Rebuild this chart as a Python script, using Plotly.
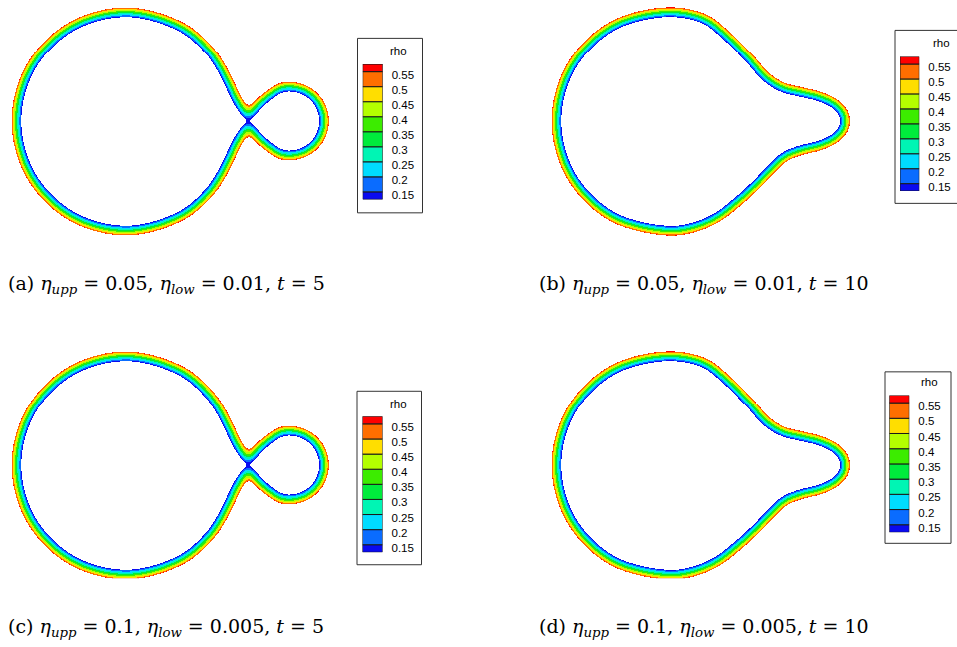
import numpy as np
import plotly.graph_objects as go

FIG_W, FIG_H = 957, 647

# Membrane mid-lines (x right, y up, px, origin at the centre of the large cell).
# Budding cell: upper half, mirrored about y = 0.
BUD_X = [-110, -95.3, -55, 0, 55, 84.3, 99.7, 107, 113, 118, 122, 126, 131.5, 138, 146, 154, 163.5, 181, 193.8, 198.5]
BUD_Y = [0, 55, 95.3, 110, 95.3, 70.7, 46.5, 31, 19, 11.2, 6.9, 10, 16.2, 22.5, 28.5, 33.5, 35, 30.3, 17.5, 0]
# Pear-shaped cell: full loop, counter-clockwise from the left end.
PEAR_X = [-110, -95.3, -55, 0, 38, 60, 83, 101, 117, 135, 155, 170, 178.5, 179.5,
          178.5, 170, 155, 135, 119, 106, 90, 73, 50, 25, 0, -55, -95.3]
PEAR_Y = [0, 55, 95.3, 110, 103.5, 87, 64, 44, 34, 29.5, 24.5, 17, 7, 0,
          -7, -17, -24.5, -29.5, -36, -48, -64.5, -80, -97.5, -107.5, -110, -95.3, -55]

# rho flood bands and their colours, low -> high
BAND_EDGES = [0.10, 0.15, 0.2, 0.25, 0.3, 0.35, 0.4, 0.45, 0.5, 0.55, 0.60]
COLORS = ["#0a0af0", "#0a6cff", "#00dcff", "#00f5b4", "#00ec3c", "#3cec00",
          "#b4ff00", "#ffde00", "#ff6e00", "#ff0000"]
# levels spanned by the legend boxes (end boxes are half height)
LEGEND_LEVELS = [0.125, 0.15, 0.2, 0.25, 0.3, 0.35, 0.4, 0.45, 0.5, 0.55, 0.575]
TICKS = [0.15, 0.2, 0.25, 0.3, 0.35, 0.4, 0.45, 0.5, 0.55]
TICK_TEXT = ["0.15", "0.2", "0.25", "0.3", "0.35", "0.4", "0.45", "0.5", "0.55"]
FLOOD_RANGE = (0.115, 0.556)   # rho values outside this range are left blank

CAPTIONS = [
    "(a) <i>η</i><sub><i>upp</i></sub> = 0.05, <i>η</i><sub><i>low</i></sub> = 0.01, <i>t</i> = 5",
    "(b) <i>η</i><sub><i>upp</i></sub> = 0.05, <i>η</i><sub><i>low</i></sub> = 0.01, <i>t</i> = 10",
    "(c) <i>η</i><sub><i>upp</i></sub> = 0.1, <i>η</i><sub><i>low</i></sub> = 0.005, <i>t</i> = 5",
    "(d) <i>η</i><sub><i>upp</i></sub> = 0.1, <i>η</i><sub><i>low</i></sub> = 0.005, <i>t</i> = 10",
]

RHO_MID = 0.35     # rho on the membrane mid-line
RHO_GRAD = 0.045   # change of rho per px across the membrane
SMOOTH = 3.5       # diffusion length of the profile, px


def closed_spline(xs, ys, n=60, alpha=0.5):
    """Centripetal Catmull-Rom through the closed mid-line."""
    P = np.column_stack([xs, ys]).astype(float)
    N = len(P)
    out = []
    for i in range(N):
        p0, p1, p2, p3 = P[(i - 1) % N], P[i], P[(i + 1) % N], P[(i + 2) % N]
        t0 = 0.0
        t1 = t0 + np.linalg.norm(p1 - p0) ** alpha
        t2 = t1 + np.linalg.norm(p2 - p1) ** alpha
        t3 = t2 + np.linalg.norm(p3 - p2) ** alpha
        t = np.linspace(t1, t2, n, endpoint=False)[:, None]
        a1 = (t1 - t) / (t1 - t0) * p0 + (t - t0) / (t1 - t0) * p1
        a2 = (t2 - t) / (t2 - t1) * p1 + (t - t1) / (t2 - t1) * p2
        a3 = (t3 - t) / (t3 - t2) * p2 + (t - t2) / (t3 - t2) * p3
        b1 = (t2 - t) / (t2 - t0) * a1 + (t - t0) / (t2 - t0) * a2
        b2 = (t3 - t) / (t3 - t1) * a2 + (t - t1) / (t3 - t1) * a3
        out.append((t2 - t) / (t2 - t1) * b1 + (t - t1) / (t2 - t1) * b2)
    return np.vstack(out)


def mirrored_outline(xs, ys):
    xs_full = list(xs) + [x for x in reversed(xs[1:-1])]
    ys_full = list(ys) + [-y for y in reversed(ys[1:-1])]
    return closed_spline(xs_full, ys_full)


def gaussian_blur(a, sigma):
    r = int(3 * sigma + 0.5)
    k = np.exp(-0.5 * (np.arange(-r, r + 1) / sigma) ** 2)
    k /= k.sum()
    p = np.pad(a, r, mode="edge")
    p = np.apply_along_axis(lambda v: np.convolve(v, k, mode="valid"), 1, p)
    return np.apply_along_axis(lambda v: np.convolve(v, k, mode="valid"), 0, p)


def rho_field(curve, gx, gy):
    X, Y = np.meshgrid(gx, gy)
    px, py = X.ravel(), Y.ravel()
    cx, cy = curve[:, 0], curve[:, 1]
    d2 = np.full(px.shape, np.inf)
    step = 40
    for k in range(0, len(cx), step):
        dx = px[:, None] - cx[None, k:k + step]
        dy = py[:, None] - cy[None, k:k + step]
        d2 = np.minimum(d2, (dx * dx + dy * dy).min(axis=1))
    inside = np.zeros(px.shape, bool)
    sx, sy = cx[::3], cy[::3]
    ex, ey = np.roll(sx, -1), np.roll(sy, -1)
    for a, b, c, d in zip(sx, sy, ex, ey):
        if b == d:
            continue
        cross = (b > py) != (d > py)
        xi = a + (py - b) * (c - a) / (d - b)
        inside ^= cross & (px < xi)
    s = np.sqrt(d2)
    s[inside] *= -1
    s = np.clip(s, -40, 40).reshape(X.shape)
    s = gaussian_blur(s, SMOOTH)
    rho = RHO_MID + RHO_GRAD * s
    return np.where((rho >= FLOOD_RANGE[0]) & (rho <= FLOOD_RANGE[1]), rho, np.nan)


gx = np.arange(-128, 222) + 0.5
gy = np.arange(-131, 140) + 0.5
rho_bud = rho_field(mirrored_outline(BUD_X, BUD_Y), gx, gy)
rho_pear = rho_field(closed_spline(PEAR_X, PEAR_Y), gx, gy)

# stepped colour scale for the flood bands
lo, hi = BAND_EDGES[0], BAND_EDGES[-1]
colorscale = []
for i, c in enumerate(COLORS):
    colorscale.append([(BAND_EDGES[i] - lo) / (hi - lo), c])
    colorscale.append([(BAND_EDGES[i + 1] - lo) / (hi - lo), c])

# panel frames in page px: (left, top, right, bottom), cell centre (cx, cy)
panels = [
    dict(field=rho_bud, box=(0, 0, 345, 250), centre=(126, 121.7),
         bar=(362.7, 64.3, 382.7, 200), frame=(357.5, 38.5, 422.5, 213.5), title=(398, 51),
         cap=(6, 285)),
    dict(field=rho_pear, box=(540, 0, 885, 250), centre=(666, 121.7),
         bar=(900, 56.7, 919.3, 191.7), frame=(895, 30.5, 962, 204), title=(941, 43),
         cap=(537, 285)),
    dict(field=rho_bud, box=(0, 330, 345, 580), centre=(126, 466.8),
         bar=(362.5, 417.6, 382.5, 554), frame=(357, 392.5, 421.5, 566.5), title=(398, 405),
         cap=(6, 629)),
    dict(field=rho_pear, box=(540, 330, 885, 580), centre=(666, 466.8),
         bar=(889.3, 396.7, 909.3, 534), frame=(885, 373, 951, 545), title=(929, 383),
         cap=(537, 629)),
]

fig = go.Figure()
layout = dict(width=FIG_W, height=FIG_H, margin=dict(l=0, r=0, t=0, b=0),
              paper_bgcolor="white", plot_bgcolor="rgba(0,0,0,0)", showlegend=False,
              shapes=[], annotations=[])

hidden = dict(visible=False, showgrid=False, zeroline=False, fixedrange=True)
leg_lo, leg_hi = LEGEND_LEVELS[0], LEGEND_LEVELS[-1]

for i, p in enumerate(panels):
    ax = i + 1
    L, T, R, B = p["box"]
    cx, cy = p["centre"]
    fig.add_trace(go.Heatmap(z=p["field"], x0=gx[0], dx=1, y0=gy[0], dy=1,
                             colorscale=colorscale, zmin=lo, zmax=hi, zsmooth=False,
                             showscale=False, hoverinfo="skip",
                             xaxis=f"x{ax}", yaxis=f"y{ax}"))
    layout[f"xaxis{ax}"] = dict(domain=[L / FIG_W, R / FIG_W], range=[L - cx, R - cx],
                                anchor=f"y{ax}", **hidden)
    layout[f"yaxis{ax}"] = dict(domain=[1 - B / FIG_H, 1 - T / FIG_H], range=[cy - B, cy - T],
                                anchor=f"x{ax}", **hidden)

    # level legend drawn as a stacked bar
    lx = i + 5
    bl, bt, br, bb = p["bar"]
    fig.add_trace(go.Bar(x=[0] * len(COLORS), y=np.diff(LEGEND_LEVELS), base=LEGEND_LEVELS[:-1],
                         width=1,
                         marker=dict(color=COLORS, line=dict(color="#1a1a1a", width=1)),
                         hoverinfo="skip", xaxis=f"x{lx}", yaxis=f"y{lx}"))
    layout[f"xaxis{lx}"] = dict(domain=[bl / FIG_W, br / FIG_W], range=[-0.5, 0.5],
                                anchor=f"y{lx}", **hidden)
    layout[f"yaxis{lx}"] = dict(domain=[1 - bb / FIG_H, 1 - bt / FIG_H], range=[leg_lo, leg_hi],
                                anchor=f"x{lx}", side="right", showgrid=False, zeroline=False,
                                showline=False, ticks="", tickvals=TICKS, ticktext=TICK_TEXT,
                                ticklabelstandoff=8, ticklabelshift=3, fixedrange=True,
                                tickfont=dict(family="Liberation Sans", size=11.5, color="black"))

    fl, ft, fr, fb = p["frame"]
    layout["shapes"].append(dict(type="rect", xref="paper", yref="paper",
                                 x0=fl / FIG_W, x1=fr / FIG_W, y0=1 - fb / FIG_H, y1=1 - ft / FIG_H,
                                 line=dict(color="#333333", width=1), fillcolor="rgba(0,0,0,0)"))
    tx, ty = p["title"]
    layout["annotations"].append(dict(text="rho", xref="paper", yref="paper",
                                      x=tx / FIG_W, y=1 - ty / FIG_H, xanchor="center",
                                      yanchor="middle", showarrow=False,
                                      font=dict(family="Liberation Sans", size=11.5, color="black")))
    capx, capy = p["cap"]
    layout["annotations"].append(dict(text=CAPTIONS[i], xref="paper", yref="paper",
                                      x=capx / FIG_W, y=1 - capy / FIG_H, xanchor="left",
                                      yanchor="middle", showarrow=False,
                                      font=dict(family="DejaVu Serif", size=19, color="black")))

fig.update_layout(**layout)
fig.write_html("out.html")
